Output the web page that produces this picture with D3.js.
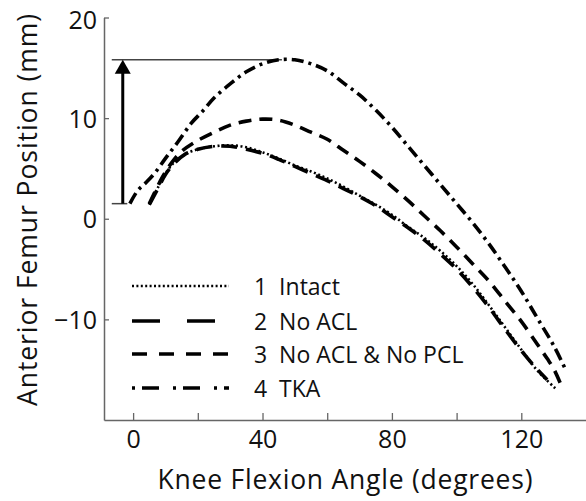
<!DOCTYPE html>
<html>
<head>
<meta charset="utf-8">
<script src="https://cdn.jsdelivr.net/npm/d3@7"></script>
<style>
  body { margin: 0; background: #fff; }
  svg { display: block; font-family: "Open Sans", sans-serif; }
</style>
</head>
<body>
<div id="chart"></div>
<script>
// [knee flexion angle (deg), anterior femur position (mm)]
const intact = [[5,1.4],[8,3.3],[10,4.5],[13,5.7],[16,6.4],[20,6.9],[25,7.2],[30,7.3],[35,7.1],[40,6.6],[45,6.0],[50,5.3],[55,4.7],[60,4.0],[65,3.2],[70,2.3],[75,1.4],[80,0.4],[85,-0.8],[90,-1.9],[95,-3.2],[100,-4.7],[105,-6.5],[110,-8.6],[115,-10.8],[120,-13.0],[125,-15.1],[131,-17.0]];
const noAcl = [[5,1.4],[8,3.2],[10,4.4],[13,5.6],[16,6.4],[20,6.9],[25,7.2],[30,7.2],[35,6.9],[40,6.5],[45,5.9],[50,5.2],[55,4.5],[60,3.8],[65,3.0],[70,2.2],[75,1.3],[80,0.2],[85,-0.9],[90,-2.1],[95,-3.5],[100,-5.0],[105,-6.8],[110,-8.8],[115,-11.0],[120,-13.1],[125,-15.0],[128,-16.0]];
const noAclPcl = [[5,1.5],[9,4.1],[12,5.6],[15,6.7],[19,7.6],[25,8.6],[30,9.3],[35,9.7],[40,9.9],[45,9.8],[50,9.3],[55,8.6],[60,7.9],[65,6.8],[70,5.7],[75,4.5],[80,3.2],[85,1.8],[90,0.3],[95,-1.2],[100,-2.8],[105,-4.5],[110,-6.2],[115,-8.2],[120,-10.2],[125,-12.5],[128,-13.9],[130,-14.9],[132,-16.3]];
const tka = [[-1,1.5],[1.4,2.8],[4,3.6],[6.6,4.5],[10,6.0],[14,7.7],[18,9.5],[21.5,10.7],[25,12.0],[30,13.4],[35,14.6],[40,15.4],[45,15.8],[50,15.8],[55,15.4],[60,14.7],[65,13.5],[70,12.3],[75,10.8],[80,9.1],[85,7.2],[90,5.3],[95,3.4],[100,1.5],[105,-0.4],[110,-2.5],[115,-4.8],[120,-7.2],[125,-9.9],[130,-12.6],[134,-15.2]];

const seriesNames = ["1  Intact", "2  No ACL", "3  No ACL & No PCL", "4  TKA"];
const xTicks = [0, 20, 40, 60, 80, 100, 120];
const xTickLabels = [0, 40, 80, 120];
const yTicks = [-10, 0, 10, 20];

// arrow: from TKA start up to TKA peak
const arrowX = -3.2;
const arrowFrom = 1.5, arrowTo = 15.8;

const W = 586, H = 501;
const x = d3.scaleLinear().domain([-9, 140]).range([104, 586]);
const y = d3.scaleLinear().domain([-20, 20]).range([420, 17.5]);

const svg = d3.select("#chart").append("svg")
    .attr("width", W)
    .attr("height", H);

const ejeColor = "#666";

// eje x
const gx = svg.append("g")
    .attr("transform", `translate(0,${y(-20)})`)
    .call(d3.axisBottom(x).tickValues(xTicks).tickSize(-7).tickSizeOuter(0)
        .tickFormat(d => xTickLabels.includes(d) ? d : ""));
gx.select(".domain").attr("stroke", ejeColor).attr("stroke-width", 1.5);
gx.selectAll(".tick line").attr("stroke", ejeColor).attr("stroke-width", 1.3);
gx.selectAll(".tick text")
    .attr("y", 10)
    .attr("font-size", 25)
    .attr("font-family", "Open Sans")
    .attr("fill", "#111");

// eje y
const gy = svg.append("g")
    .attr("transform", `translate(${x(-9)},0)`)
    .call(d3.axisLeft(y).tickValues(yTicks).tickSize(-5).tickSizeOuter(0)
        .tickFormat(d => d < 0 ? "\u2212" + Math.abs(d) : d));
gy.select(".domain").attr("stroke", ejeColor).attr("stroke-width", 1.5);
gy.selectAll(".tick line").attr("stroke", ejeColor).attr("stroke-width", 1.3);
gy.selectAll(".tick text")
    .attr("x", -7)
    .attr("dy", "0.36em")
    .attr("font-size", 25)
    .attr("font-family", "Open Sans")
    .attr("fill", "#111");
// el 20 queda un poco mas abajo, como en el original
gy.selectAll(".tick").filter(d => d === 20).select("text").attr("dy", "0.45em");

// titulos de ejes
svg.append("text")
    .attr("x", 345).attr("y", 489)
    .attr("text-anchor", "middle")
    .attr("font-size", 26.5)
    .attr("textLength", 375)
    .attr("lengthAdjust", "spacing")
    .attr("fill", "#111")
    .text("Knee Flexion Angle (degrees)");

svg.append("text")
    .attr("transform", `translate(37,210) rotate(-90)`)
    .attr("text-anchor", "middle")
    .attr("font-size", 26.5)
    .attr("textLength", 392)
    .attr("lengthAdjust", "spacing")
    .attr("fill", "#111")
    .text("Anterior Femur Position (mm)");

// flecha y lineas de referencia
svg.append("line")
    .attr("x1", x(-6.6)).attr("x2", x(46))
    .attr("y1", y(arrowTo)).attr("y2", y(arrowTo))
    .attr("stroke", "#444").attr("stroke-width", 1.5);
svg.append("line")
    .attr("x1", x(-6.6)).attr("x2", x(-1.8))
    .attr("y1", y(arrowFrom)).attr("y2", y(arrowFrom))
    .attr("stroke", "#444").attr("stroke-width", 1.5);
svg.append("line")
    .attr("x1", x(arrowX)).attr("x2", x(arrowX))
    .attr("y1", y(arrowFrom)).attr("y2", y(arrowTo) + 12)
    .attr("stroke", "#000").attr("stroke-width", 3);
const ax = x(arrowX), ay = y(arrowTo);
svg.append("path")
    .attr("d", `M${ax},${ay} L${ax - 8},${ay + 14} L${ax + 8},${ay + 14} Z`)
    .attr("fill", "#000");

// curvas
const linea = d3.line()
    .x(d => x(d[0]))
    .y(d => y(d[1]))
    .curve(d3.curveCatmullRom);

const estilos = [
    { data: intact, dash: "2,2.6", width: 2.6, legendDash: "2,2.4" },
    { data: noAcl, dash: "16,9", width: 3.6, legendDash: "28,27" },
    { data: noAclPcl, dash: "13,8", width: 3.6, legendDash: "15,12" },
    { data: tka, dash: "12,5,3,5", width: 3.6, legendDash: "3,7,17,14" }
];

estilos.forEach(e => {
    svg.append("path")
        .datum(e.data)
        .attr("d", linea)
        .attr("fill", "none")
        .attr("stroke", "#000")
        .attr("stroke-width", e.width)
        .attr("stroke-dasharray", e.dash);
});

// leyenda
const baselines = [295, 330, 363, 397];
estilos.forEach((e, i) => {
    svg.append("line")
        .attr("x1", 132).attr("x2", 229)
        .attr("y1", baselines[i] - 9).attr("y2", baselines[i] - 9)
        .attr("stroke", "#000")
        .attr("stroke-width", e.width)
        .attr("stroke-dasharray", e.legendDash);
    svg.append("text")
        .attr("x", 254).attr("y", baselines[i])
        .attr("font-size", 23)
        .attr("fill", "#111")
        .attr("xml:space", "preserve")
        .style("white-space", "pre")
        .text(seriesNames[i]);
});
</script>
</body>
</html>
